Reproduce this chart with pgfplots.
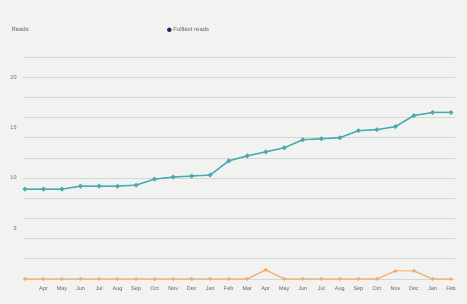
\documentclass[border=0pt]{standalone}
\usepackage{pgfplots}
\pgfplotsset{compat=1.18}
\usepackage{fontspec}
\setmainfont{Liberation Sans}
\definecolor{bg}{HTML}{F2F3F0}
\definecolor{gridc}{HTML}{D3D7D5}
\definecolor{tealc}{HTML}{4AAAB0}
\definecolor{tealm}{HTML}{2F7F86}
\definecolor{orangec}{HTML}{F2AC6A}
\definecolor{navyc}{HTML}{1F2A5C}
\definecolor{labc}{HTML}{5E625F}
\begin{document}
\begin{tikzpicture}
\fill[bg] (-23.1bp,-20bp) rectangle (443.9bp,284bp);
\path[use as bounding box] (-23.1bp,-20bp) rectangle (443.9bp,284bp);
\begin{axis}[
  scale only axis,
  width=431.6bp, height=227bp,
  xmin=-0.1, xmax=23.2,
  ymin=-0.5, ymax=22,
  axis line style={draw=none},
  tick style={draw=none},
  /pgf/number format/assume math mode=true,
  xtick={0,...,23},
  xticklabels={,Apr,May,Jun,Jul,Aug,Sep,Oct,Nov,Dec,Jan,Feb,Mar,Apr,May,Jun,Jul,Aug,Sep,Oct,Nov,Dec,Jan,Feb},
  ytick={5,10,15,20},
  minor ytick={0,2,...,22},
  ymajorgrids=false,
  yminorgrids=true,
  minor grid style={gridc, line width=0.6pt},
  ticklabel style={font=\fontsize{5.5}{6}\selectfont, text=labc},
  yticklabel style={xshift=-3bp},
  xticklabel style={text height=4bp, text depth=1bp, yshift=1bp},
  legend style={draw=none, fill=none, at={(0.385,1.12)}, anchor=center,
    font=\fontsize{6}{7}\selectfont, text=labc, legend columns=1},
  legend cell align=left,
  clip=false,
]
\addlegendimage{only marks, mark=*, mark size=2pt, color=navyc}
\addlegendentry{Fulltext reads}
\addplot[orangec, line width=1.2pt, mark=*, mark size=1.1pt, mark options={fill=orangec!80!black, draw=none}, forget plot]
coordinates {(0,0)(1,0)(2,0)(3,0)(4,0)(5,0)(6,0)(7,0)(8,0)(9,0)(10,0)(11,0)(12,0)(13,0.9)(14,0)(15,0)(16,0)(17,0)(18,0)(19,0)(20,0.8)(21,0.8)(22,0)(23,0)};
\addplot[tealc, line width=1.5pt, mark=*, mark size=1.4pt, mark options={fill=tealm, draw=none}, forget plot]
coordinates {(0,8.9)(1,8.9)(2,8.9)(3,9.2)(4,9.2)(5,9.2)(6,9.3)(7,9.9)(8,10.1)(9,10.2)(10,10.3)(11,11.7)(12,12.2)(13,12.6)(14,13.0)(15,13.8)(16,13.9)(17,14.0)(18,14.7)(19,14.8)(20,15.1)(21,16.2)(22,16.5)(23,16.5)};
\node[font=\fontsize{6}{7}\selectfont, text=labc, anchor=west] at (rel axis cs:-0.035,1.12) {Reads};
\end{axis}
\end{tikzpicture}
\end{document}
